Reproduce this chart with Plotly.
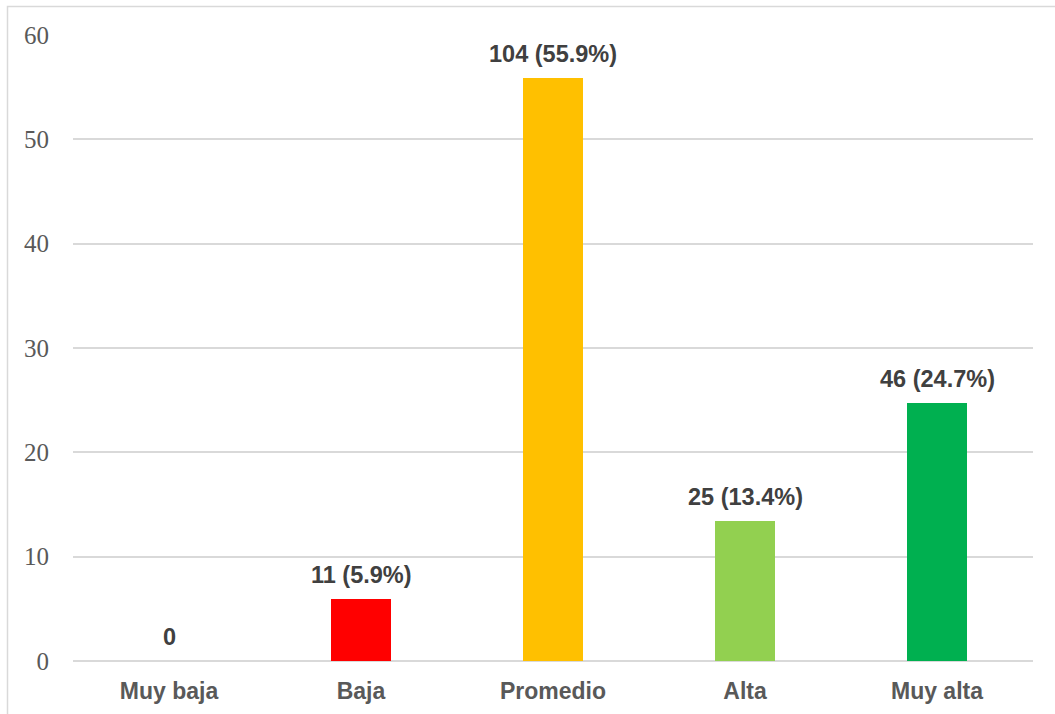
import plotly.graph_objects as go

# Nivel de rendimiento: frecuencias y porcentajes
categorias = ["Muy baja", "Baja", "Promedio", "Alta", "Muy alta"]
frecuencias = [0, 11, 104, 25, 46]
porcentajes = [0, 5.9, 55.9, 13.4, 24.7]
colores = ["#A5A5A5", "#FF0000", "#FFC000", "#92D050", "#00B050"]
ticks_y = [0, 10, 20, 30, 40, 50, 60]

etiquetas = [
    f"{n} ({p}%)" if n else f"{n}" for n, p in zip(frecuencias, porcentajes)
]

W, H = 1055, 714
ml, mr, mt, mb = 73, 22, 35, 53

fig = go.Figure(
    go.Bar(
        x=categorias,
        y=porcentajes,
        marker=dict(color=colores, line=dict(width=0)),
        width=0.3125,
        hoverinfo="skip",
    )
)

# etiquetas de datos sobre cada barra
for cat, val, txt in zip(categorias, porcentajes, etiquetas):
    fig.add_annotation(
        x=cat, y=val, text=txt,
        showarrow=False,
        xanchor="center", yanchor="bottom",
        yshift=9,
        font=dict(family="Liberation Sans, Arial", size=23.5, color="#404040", weight="bold"),
    )

pw = W - ml - mr
ph = H - mt - mb
# marco exterior del gráfico
fig.add_shape(
    type="rect", xref="paper", yref="paper",
    x0=(7.5 - ml) / pw, x1=1.2,
    y0=-0.2, y1=(H - mb - 6.5) / ph,
    line=dict(color="#D9D9D9", width=1.5),
    fillcolor="rgba(0,0,0,0)",
    layer="below",
)

fig.update_layout(
    width=W, height=H,
    margin=dict(l=ml, r=mr, t=mt, b=mb),
    paper_bgcolor="white",
    plot_bgcolor="white",
    showlegend=False,
    bargap=0,
    xaxis=dict(
        automargin=False,
        showgrid=False,
        showline=False,
        ticks="outside",
        ticklen=9,
        tickcolor="rgba(0,0,0,0)",
        tickfont=dict(family="Liberation Sans, Arial", size=23, color="#595959", weight="bold"),
    ),
    yaxis=dict(
        automargin=False,
        range=[0, 60],
        tickvals=ticks_y,
        showgrid=True,
        gridcolor="#D9D9D9",
        gridwidth=1.5,
        zeroline=True,
        zerolinecolor="#D9D9D9",
        zerolinewidth=1.5,
        showline=False,
        ticks="outside",
        ticklen=18,
        tickcolor="rgba(0,0,0,0)",
        tickfont=dict(family="Liberation Serif, Cambria, serif", size=25, color="#595959"),
    ),
)

fig.write_html("out.html")
